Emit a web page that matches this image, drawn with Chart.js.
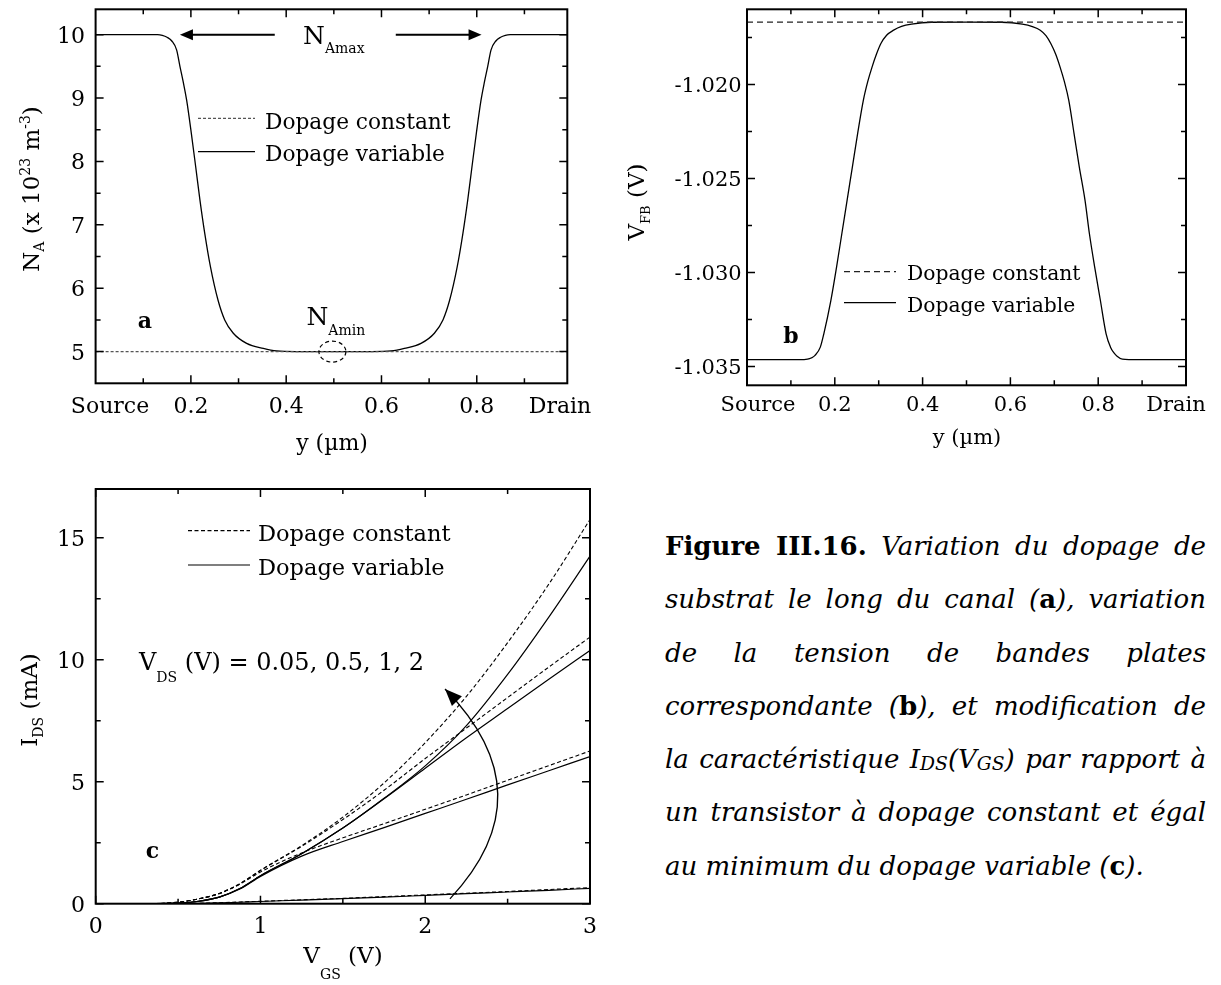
<!DOCTYPE html>
<html>
<head>
<meta charset="utf-8">
<script src="https://cdn.jsdelivr.net/npm/chart.js@4.4.1/dist/chart.umd.min.js"></script>
<style>
  body { margin: 0; background: #fff; width: 1221px; height: 985px; position: relative; overflow: hidden; font-family: "DejaVu Serif", serif; }
  canvas { position: absolute; }
  #caption { position: absolute; left: 665px; top: 520px; width: 541px; font-size: 26px; color: #000; font-style: italic; }
  #caption div { height: 53.3px; line-height: 53.3px; text-align: justify; text-align-last: justify; white-space: nowrap; }
  #caption div.last { text-align-last: left; }
  #caption b { font-style: normal; }
  #caption .sub { font-size: 0.72em; vertical-align: -2px; }
</style>
</head>
<body>
<canvas id="chartA" width="605" height="470" style="left:0;top:0"></canvas>
<canvas id="chartB" width="611" height="470" style="left:610px;top:0"></canvas>
<canvas id="chartC" width="605" height="515" style="left:0;top:470px"></canvas>

<div id="caption">
  <div><b>Figure III.16.</b> Variation du dopage de</div>
  <div>substrat le long du canal (<b>a</b>), variation</div>
  <div>de la tension de bandes plates</div>
  <div>correspondante (<b>b</b>), et modification de</div>
  <div>la caractéristique I<span class="sub">DS</span>(V<span class="sub">GS</span>) par rapport à</div>
  <div>un transistor à dopage constant et égal</div>
  <div class="last">au minimum du dopage variable (<b>c</b>).</div>
</div>

<script>
// ---------- (a) dopage NA le long du canal (x 10^23 m^-3)
const posA = [0, 0.05, 0.1, 0.13, 0.14, 0.15, 0.16, 0.17, 0.177, 0.184, 0.191, 0.201, 0.21, 0.219, 0.229, 0.241, 0.257, 0.271, 0.289, 0.317, 0.352, 0.38, 0.42,
              0.5,
              0.58, 0.62, 0.648, 0.683, 0.711, 0.729, 0.743, 0.759, 0.771, 0.781, 0.79, 0.799, 0.809, 0.816, 0.823, 0.83, 0.84, 0.85, 0.86, 0.87, 0.9, 0.95, 0.99];
const naVariable = [10, 10, 10, 10, 9.99, 9.96, 9.9, 9.76, 9.5, 9.25, 8.97, 8.44, 7.92, 7.39, 6.87, 6.34, 5.81, 5.5, 5.29, 5.13, 5.05, 5.01, 5.0,
                    5.0,
                    5.0, 5.01, 5.05, 5.13, 5.29, 5.5, 5.81, 6.34, 6.87, 7.39, 7.92, 8.44, 8.97, 9.25, 9.5, 9.76, 9.9, 9.96, 9.99, 10, 10, 10, 10];
const posConstA = [0, 0.99];
const naConstant = [5, 5];

// ---------- (b) tension de bandes plates VFB (V)
const posB = [0, 0.05, 0.1, 0.13, 0.138, 0.146, 0.155, 0.167, 0.175, 0.191, 0.204, 0.216, 0.228, 0.24, 0.252, 0.265, 0.275, 0.285, 0.295, 0.305, 0.318, 0.334, 0.352, 0.375, 0.42,
              0.5,
              0.58, 0.627, 0.65, 0.668, 0.681, 0.692, 0.703, 0.713, 0.723, 0.733, 0.745, 0.757, 0.77, 0.78, 0.792, 0.805, 0.818, 0.828, 0.836, 0.843, 0.855, 0.87, 0.9, 0.95, 1.0];
const vfbVariable = [-1.03463, -1.03463, -1.03463, -1.03463, -1.03461, -1.03455, -1.03441, -1.03397, -1.03326, -1.03149, -1.02971, -1.02794, -1.02616, -1.02439, -1.02261, -1.02084, -1.01985, -1.01906, -1.01838, -1.01782, -1.01738, -1.01711, -1.01691, -1.01679, -1.01669,
                     -1.01668,
                     -1.01669, -1.01679, -1.01692, -1.01711, -1.01740, -1.01782, -1.01838, -1.01906, -1.01985, -1.02084, -1.02261, -1.02439, -1.02616, -1.02794, -1.02971, -1.03149, -1.03326, -1.03397, -1.03428, -1.03445, -1.03461, -1.03463, -1.03463, -1.03463, -1.03463];
const posConstB = [0, 1];
const vfbConstant = [-1.01668, -1.01668];

// ---------- (c) IDS(VGS) pour VDS = 0.05, 0.5, 1, 2 V
const vgs = [0, 0.3, 0.5, 0.625, 0.75, 0.875, 1, 1.25, 1.5, 1.75, 2, 2.25, 2.5, 2.75, 3];
const idsConst2   = [0, 0, 0.06, 0.2, 0.42, 0.82, 1.37, 2.38, 3.55, 4.95, 6.6, 8.5, 10.7, 13.1, 15.75];
const idsConst1   = [0, 0, 0.06, 0.2, 0.42, 0.82, 1.36, 2.35, 3.45, 4.65, 5.95, 7.2, 8.45, 9.7, 10.93];
const idsConst05  = [0, 0, 0.06, 0.2, 0.41, 0.8, 1.3, 2.08, 2.7, 3.28, 3.87, 4.46, 5.06, 5.66, 6.26];
const idsConst005 = [0, 0, 0.01, 0.02, 0.04, 0.07, 0.1, 0.16, 0.22, 0.29, 0.36, 0.43, 0.5, 0.58, 0.66];
const idsVar2     = [0, 0, 0.02, 0.1, 0.27, 0.62, 1.15, 2.05, 3.1, 4.32, 5.65, 7.3, 9.4, 11.75, 14.25];
const idsVar1     = [0, 0, 0.02, 0.1, 0.27, 0.62, 1.15, 2.05, 3.1, 4.3, 5.55, 6.8, 8.0, 9.2, 10.38];
const idsVar05    = [0, 0, 0.02, 0.1, 0.27, 0.6, 1.12, 1.95, 2.55, 3.12, 3.7, 4.28, 4.87, 5.45, 6.03];
const idsVar005   = [0, 0, 0.005, 0.015, 0.03, 0.06, 0.09, 0.15, 0.21, 0.27, 0.34, 0.41, 0.48, 0.55, 0.63];

// ---------- graduations
const ticksAx = [0.2, 0.4, 0.6, 0.8];
const minorAx = [0.1, 0.3, 0.5, 0.7, 0.9];
const ticksAy = [5, 6, 7, 8, 9, 10];
const minorAy = [5.5, 6.5, 7.5, 8.5, 9.5];
const ticksBx = [0.2, 0.4, 0.6, 0.8];
const minorBx = [0.1, 0.3, 0.5, 0.7, 0.9];
const ticksBy = [-1.035, -1.030, -1.025, -1.020];
const minorBy = [-1.0325, -1.0275, -1.0225, -1.0175];
const ticksCx = [0, 1, 2, 3];
const minorCx = [0.5, 1.5, 2.5];
const ticksCy = [0, 5, 10, 15];
const minorCy = [2.5, 7.5, 12.5];

const FONT = '"DejaVu Serif", serif';
function font(size, weight) { return (weight || 'normal') + ' ' + size + 'px ' + FONT; }

// texte composé (indices / exposants) : [texte, taille, décalage vertical, graisse]
function drawRich(ctx, parts, x, y, align) {
  let w = 0;
  parts.forEach(p => { ctx.font = font(p[1], p[3]); w += ctx.measureText(p[0]).width; });
  let cx = align === 'center' ? x - w / 2 : (align === 'right' ? x - w : x);
  ctx.textAlign = 'left';
  ctx.textBaseline = 'alphabetic';
  parts.forEach(p => {
    ctx.font = font(p[1], p[3]);
    ctx.fillText(p[0], cx, y + (p[2] || 0));
    cx += ctx.measureText(p[0]).width;
  });
}
function drawRichUp(ctx, parts, x, y) {
  ctx.save();
  ctx.translate(x, y);
  ctx.rotate(-Math.PI / 2);
  drawRich(ctx, parts, 0, 0, 'center');
  ctx.restore();
}
function arrowHead(ctx, tx, ty, dx, dy, len, half) {
  const n = Math.hypot(dx, dy); dx /= n; dy /= n;
  ctx.beginPath();
  ctx.moveTo(tx, ty);
  ctx.lineTo(tx - dx * len - dy * half, ty - dy * len + dx * half);
  ctx.lineTo(tx - dx * len + dy * half, ty - dy * len - dx * half);
  ctx.closePath();
  ctx.fill();
}
function legendEntry(ctx, x1, x2, y, dash, color, text, tx, ty, size) {
  ctx.save();
  ctx.strokeStyle = color; ctx.lineWidth = 1.2; ctx.setLineDash(dash);
  ctx.beginPath(); ctx.moveTo(x1, y); ctx.lineTo(x2, y); ctx.stroke();
  ctx.restore();
  ctx.font = font(size); ctx.textAlign = 'left'; ctx.textBaseline = 'alphabetic';
  ctx.fillText(text, tx, ty);
}

// cadre, graduations intérieures sur les 4 côtés, étiquettes et annotations
function makeFrame(cfg) {
  return {
    id: 'frame' + cfg.name,
    afterDatasetsDraw(chart) {
      const ctx = chart.ctx, a = chart.chartArea;
      const sx = chart.scales.x, sy = chart.scales.y;
      ctx.save();
      ctx.strokeStyle = '#000'; ctx.fillStyle = '#000';
      ctx.lineWidth = 1.5;
      ctx.beginPath();
      const xt = (vals, len) => vals.forEach(v => {
        const p = sx.getPixelForValue(v);
        ctx.moveTo(p, a.bottom); ctx.lineTo(p, a.bottom - len);
        ctx.moveTo(p, a.top); ctx.lineTo(p, a.top + len);
      });
      const yt = (vals, len) => vals.forEach(v => {
        const p = sy.getPixelForValue(v);
        ctx.moveTo(a.left, p); ctx.lineTo(a.left + len, p);
        ctx.moveTo(a.right, p); ctx.lineTo(a.right - len, p);
      });
      xt(cfg.xMajor, 8); xt(cfg.xMinor, 5);
      yt(cfg.yMajor, 8); yt(cfg.yMinor, 5);
      ctx.stroke();
      ctx.lineWidth = 2;
      ctx.strokeRect(a.left, a.top, a.right - a.left, a.bottom - a.top);

      // étiquettes en coordonnées de page
      ctx.translate(-cfg.ox, -cfg.oy);
      ctx.font = font(cfg.tickSize);
      ctx.textBaseline = 'alphabetic';
      ctx.textAlign = 'center';
      cfg.xMajor.forEach(v => ctx.fillText(String(v), sx.getPixelForValue(v) + cfg.ox, cfg.xLabelY));
      ctx.textAlign = 'right';
      cfg.yMajor.forEach(v => ctx.fillText(v.toFixed(cfg.yDec), cfg.yLabelX, sy.getPixelForValue(v) + cfg.oy + cfg.tickSize * 0.36));
      const px = v => sx.getPixelForValue(v) + cfg.ox;
      const py = v => sy.getPixelForValue(v) + cfg.oy;
      cfg.decor(ctx, px, py);
      ctx.restore();
    }
  };
}

function line(xs, ys, dash, color, width) {
  return {
    data: xs.map((v, i) => ({ x: v, y: ys[i] })),
    borderColor: color, borderWidth: width, borderDash: dash,
    pointRadius: 0, fill: false, cubicInterpolationMode: 'monotone'
  };
}

function makeChart(id, datasets, xr, yr, pad, frame) {
  return new Chart(document.getElementById(id), {
    type: 'line',
    data: { datasets },
    options: {
      responsive: false, animation: false, events: [],
      layout: { padding: pad },
      scales: {
        x: { type: 'linear', min: xr[0], max: xr[1], display: false },
        y: { type: 'linear', min: yr[0], max: yr[1], display: false }
      },
      plugins: { legend: { display: false }, tooltip: { enabled: false } }
    },
    plugins: [makeFrame(frame)]
  });
}

// ----- (a)
makeChart('chartA', [
  line(posConstA, naConstant, [3, 2], '#555', 1.2),
  line(posA, naVariable, [], '#000', 1.3)
], [0, 0.99], [4.5, 10.4], { left: 95.6, top: 9.3, right: 37.7, bottom: 86.7 }, {
  name: 'A', ox: 0, oy: 0, xMajor: ticksAx, xMinor: minorAx, yMajor: ticksAy, yMinor: minorAy,
  tickSize: 22, xLabelY: 413, yLabelX: 85, yDec: 0,
  decor(ctx, px, py) {
    ctx.font = font(22); ctx.textAlign = 'center';
    ctx.fillText('Source', 110, 413);
    ctx.fillText('Drain', 560, 413);
    drawRich(ctx, [['y (µm)', 22]], 332, 450, 'center');
    drawRichUp(ctx, [['N', 23], ['A', 14, 5], [' (x 10', 23], ['23', 14, -9], [' m', 23], ['-3', 14, -9], [')', 23]], 39, 189);
    drawRich(ctx, [['a', 22, 0, 'bold']], 145, 328, 'center');
    // NAmax et flèches
    drawRich(ctx, [['N', 25], ['Amax', 14, 9]], px(0.5), 44, 'center');
    ctx.lineWidth = 2;
    ctx.beginPath();
    ctx.moveTo(px(0.376), py(10)); ctx.lineTo(px(0.19), py(10));
    ctx.moveTo(px(0.63), py(10)); ctx.lineTo(px(0.80), py(10));
    ctx.stroke();
    arrowHead(ctx, px(0.177), py(10), -1, 0, 13, 5.5);
    arrowHead(ctx, px(0.81), py(10), 1, 0, 13, 5.5);
    // NAmin et cercle pointillé
    drawRich(ctx, [['N', 25], ['Amin', 14, 10]], px(0.5) + 2, 325, 'center');
    ctx.save();
    ctx.lineWidth = 1.2; ctx.setLineDash([4, 3]);
    ctx.beginPath(); ctx.ellipse(px(0.497), py(5), 13.5, 10.5, 0, 0, Math.PI * 2); ctx.stroke();
    ctx.restore();
    legendEntry(ctx, 198, 255, 118.3, [3, 2], '#555', 'Dopage constant', 265, 129, 21.7);
    legendEntry(ctx, 198, 255, 151.7, [], '#000', 'Dopage variable', 265, 161, 21.7);
  }
});

// ----- (b)
makeChart('chartB', [
  line(posConstB, vfbConstant, [6, 4], '#222', 1.2),
  line(posB, vfbVariable, [], '#000', 1.3)
], [0, 1.0], [-1.036, -1.016], { left: 137, top: 9.3, right: 35, bottom: 84.7 }, {
  name: 'B', ox: 610, oy: 0, xMajor: ticksBx, xMinor: minorBx, yMajor: ticksBy, yMinor: minorBy,
  tickSize: 21, xLabelY: 410.5, yLabelX: 741.7, yDec: 3,
  decor(ctx, px, py) {
    ctx.font = font(21); ctx.textAlign = 'center';
    ctx.fillText('Source', 758, 410.5);
    ctx.fillText('Drain', 1176, 410.5);
    drawRich(ctx, [['y (µm)', 21]], 967, 444, 'center');
    drawRichUp(ctx, [['V', 23], ['FB', 13, 6], [' (V)', 23]], 644, 202);
    drawRich(ctx, [['b', 22, 0, 'bold']], 791, 343, 'center');
    legendEntry(ctx, 844, 896, 271.7, [6, 4], '#222', 'Dopage constant', 907, 280, 20.3);
    legendEntry(ctx, 844, 896, 302.7, [], '#000', 'Dopage variable', 907, 311.5, 20.3);
  }
});

// ----- (c)
makeChart('chartC', [
  line(vgs, idsConst2, [4, 2.5], '#000', 1.1),
  line(vgs, idsConst1, [4, 2.5], '#000', 1.1),
  line(vgs, idsConst05, [4, 2.5], '#000', 1.1),
  line(vgs, idsConst005, [4, 2.5], '#000', 1.1),
  line(vgs, idsVar2, [], '#000', 1.2),
  line(vgs, idsVar1, [], '#000', 1.2),
  line(vgs, idsVar05, [], '#000', 1.2),
  line(vgs, idsVar005, [], '#000', 1.2)
], [0, 3], [0, 17], { left: 95.7, top: 19, right: 15, bottom: 81.3 }, {
  name: 'C', ox: 0, oy: 470, xMajor: ticksCx, xMinor: minorCx, yMajor: ticksCy, yMinor: minorCy,
  tickSize: 22, xLabelY: 933, yLabelX: 85, yDec: 0,
  decor(ctx, px, py) {
    drawRich(ctx, [['V', 23], ['GS', 14, 16], [' (V)', 23]], 343, 963, 'center');
    drawRichUp(ctx, [['I', 23], ['DS', 14, 6], [' (mA)', 23]], 37, 700);
    drawRich(ctx, [['c', 22, 0, 'bold']], 152.5, 858, 'center');
    drawRich(ctx, [['V', 24], ['DS', 14, 12], [' (V) = 0.05, 0.5, 1, 2', 24]], 139, 670, 'left');
    legendEntry(ctx, 188, 250, 530.7, [4, 2.5], '#000', 'Dopage constant', 258, 541, 22.5);
    legendEntry(ctx, 188, 250, 565, [], '#000', 'Dopage variable', 258, 575, 22.5);
    // flèche courbe : VDS croissant
    const S = [px(2.15), py(0.2)], M = [px(2.44), py(4.5)], E = [px(2.12), py(8.8)];
    const C = [2 * M[0] - (S[0] + E[0]) / 2, 2 * M[1] - (S[1] + E[1]) / 2];
    ctx.lineWidth = 1.3;
    ctx.beginPath(); ctx.moveTo(S[0], S[1]); ctx.quadraticCurveTo(C[0], C[1], E[0], E[1]); ctx.stroke();
    arrowHead(ctx, E[0], E[1], E[0] - C[0], E[1] - C[1], 17, 7);
  }
});
</script>
</body>
</html>
